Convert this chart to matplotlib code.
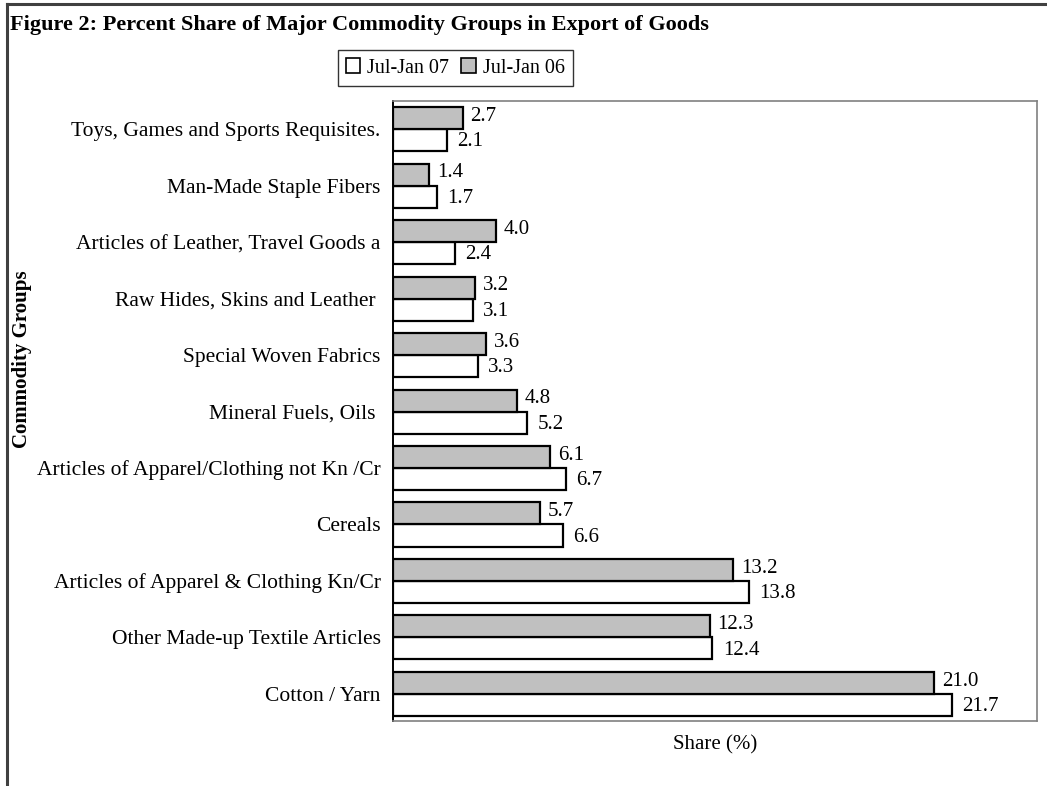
import numpy as np
import matplotlib.pyplot as plt
from matplotlib.patches import Patch
from matplotlib.lines import Line2D

plt.rcParams['font.family'] = ['Liberation Serif', 'DejaVu Serif']

# bottom to top, as drawn
groups = ['Cotton / Yarn', 'Other Made-up Textile Articles',
          'Articles of Apparel & Clothing Kn/Cr', 'Cereals',
          'Articles of Apparel/Clothing not Kn /Cr', 'Mineral Fuels, Oils ',
          'Special Woven Fabrics', 'Raw Hides, Skins and Leather ',
          'Articles of Leather, Travel Goods a', 'Man-Made Staple Fibers',
          'Toys, Games and Sports Requisites.']
jj07 = [21.7, 12.4, 13.8, 6.6, 6.7, 5.2, 3.3, 3.1, 2.4, 1.7, 2.1]
jj06 = [21.0, 12.3, 13.2, 5.7, 6.1, 4.8, 3.6, 3.2, 4.0, 1.4, 2.7]

fig = plt.figure(figsize=(10.47, 7.86), dpi=100)
ax = fig.add_axes([0.3754, 0.0827, 0.6151, 0.7888])

y = np.arange(len(groups))
h = 0.39
b07 = ax.barh(y - h/2, jj07, h, color='white', edgecolor='black', lw=1.6)
b06 = ax.barh(y + h/2, jj06, h, color='#c0c0c0', edgecolor='black', lw=1.6)

for yy, v in zip(y, jj07):
    ax.text(v + 0.4, yy - h/2 - 0.03, f'{v:.1f}', va='center', ha='left', fontsize=15)
for yy, v in zip(y, jj06):
    ax.text(v + 0.3, yy + h/2 + 0.03, f'{v:.1f}', va='center', ha='left', fontsize=15)

ax.set_xlim(0, 25)
ax.set_ylim(-0.48, 10.5)
ax.set_yticks(y)
ax.set_yticklabels(groups, fontsize=15.5)
ax.tick_params(axis='y', length=0, pad=9)
ax.set_xticks([])
for s in ['top', 'right', 'bottom']:
    ax.spines[s].set_color('#808080')
    ax.spines[s].set_linewidth(1.2)
ax.spines['left'].set_color('black')
ax.spines['left'].set_linewidth(1.4)

ax.set_xlabel('Share (%)', fontsize=15, labelpad=10)
fig.text(0.021, 0.543, 'Commodity Groups', rotation=90, fontsize=15,
         fontweight='bold', ha='center', va='center')

fig.text(0.01, 0.968, 'Figure 2: Percent Share of Major Commodity Groups in Export of Goods',
         fontsize=16, fontweight='bold', ha='left', va='center')

handles = [Patch(facecolor='white', edgecolor='black', lw=1.2),
           Patch(facecolor='#c0c0c0', edgecolor='black', lw=1.2)]
fig.legend(handles, ['Jul-Jan 07', 'Jul-Jan 06'], loc='center',
           bbox_to_anchor=(0.435, 0.9135), ncol=2, fontsize=14.5,
           frameon=True, fancybox=False, edgecolor='black',
           handlelength=0.7, handleheight=0.7, handletextpad=0.35,
           columnspacing=0.6, borderpad=0.4)

# outer frame (top and left)
fig.add_artist(Line2D([0.0067, 1.0], [0.9945, 0.9945], color='#404040', lw=2.2))
fig.add_artist(Line2D([0.0067, 0.0067], [0.0, 0.9945], color='#404040', lw=2.2))

fig.savefig('out.png', dpi=100)
